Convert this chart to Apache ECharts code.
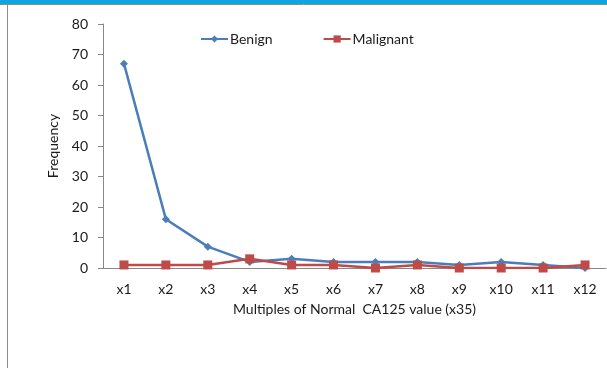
<!DOCTYPE html>
<html>
<head>
<meta charset="utf-8">
<script src="https://cdn.jsdelivr.net/npm/echarts@6/dist/echarts.min.js"></script>
<style>
  html, body { margin: 0; padding: 0; background: #fff; }
  #chart { width: 607px; height: 368px; }
</style>
</head>
<body>
<div id="chart"></div>
<script>
// CA125 multiples and frequency of benign / malignant cases
const categories = ['x1', 'x2', 'x3', 'x4', 'x5', 'x6', 'x7', 'x8', 'x9', 'x10', 'x11', 'x12'];
const benign = [67, 16, 7, 2, 3, 2, 2, 2, 1, 2, 1, 0];
const malignant = [1, 1, 1, 3, 1, 1, 0, 1, 0, 0, 0, 1];
const yTicks = { min: 0, max: 80, interval: 10 };

const font = 'Lato, "Open Sans", sans-serif';
const textColor = '#1a1a1a';
const chart = echarts.init(document.getElementById('chart'));

chart.setOption({
  animation: false,
  textStyle: { fontFamily: font },
  graphic: [
    { type: 'rect', shape: { x: 0, y: 0, width: 607, height: 4 }, style: { fill: '#0ea5e0' } },
    { type: 'line', shape: { x1: 0, y1: 4.5, x2: 607, y2: 4.5 }, style: { stroke: '#8c8c8c', lineWidth: 1 } },
    { type: 'line', shape: { x1: 7.5, y1: 4, x2: 7.5, y2: 368 }, style: { stroke: '#8c8c8c', lineWidth: 1 } }
  ],
  legend: {
    left: 195,
    top: 27,
    itemWidth: 27,
    itemHeight: 9,
    itemGap: 50,
    textStyle: { fontFamily: font, fontSize: 14, color: textColor, padding: [0, 0, 0, -3] },
    data: ['Benign', 'Malignant']
  },
  grid: { left: 103, right: 1, top: 24, bottom: 100, containLabel: false },
  xAxis: {
    type: 'category',
    data: categories,
    boundaryGap: true,
    name: 'Multiples of Normal  CA125 value (x35)',
    nameLocation: 'middle',
    nameGap: 34,
    nameTextStyle: { fontFamily: font, fontSize: 14, color: textColor },
    axisLine: { lineStyle: { color: '#888', width: 1 } },
    axisTick: { alignWithLabel: false, length: 5, lineStyle: { color: '#888' } },
    axisLabel: { margin: 14, fontFamily: font, fontSize: 14, color: textColor },
    splitLine: { show: false }
  },
  yAxis: {
    type: 'value',
    min: yTicks.min,
    max: yTicks.max,
    interval: yTicks.interval,
    name: 'Frequency',
    nameLocation: 'middle',
    nameGap: 31,
    nameTextStyle: { fontFamily: font, fontSize: 14, color: textColor },
    axisLine: { show: true, lineStyle: { color: '#888', width: 1 } },
    axisTick: { show: true, length: 5, lineStyle: { color: '#888' } },
    axisLabel: { margin: 15, fontFamily: font, fontSize: 14, color: textColor },
    splitLine: { show: false }
  },
  series: [
    {
      name: 'Benign',
      type: 'line',
      data: benign,
      symbol: 'diamond',
      symbolSize: 8,
      lineStyle: { color: '#4a7ebb', width: 2.5 },
      itemStyle: { color: '#4a7ebb' },
      z: 2
    },
    {
      name: 'Malignant',
      type: 'line',
      data: malignant,
      symbol: 'rect',
      symbolSize: 9,
      lineStyle: { color: '#be4b48', width: 2.5 },
      itemStyle: { color: '#be4b48' },
      z: 3
    }
  ]
});
</script>
</body>
</html>
